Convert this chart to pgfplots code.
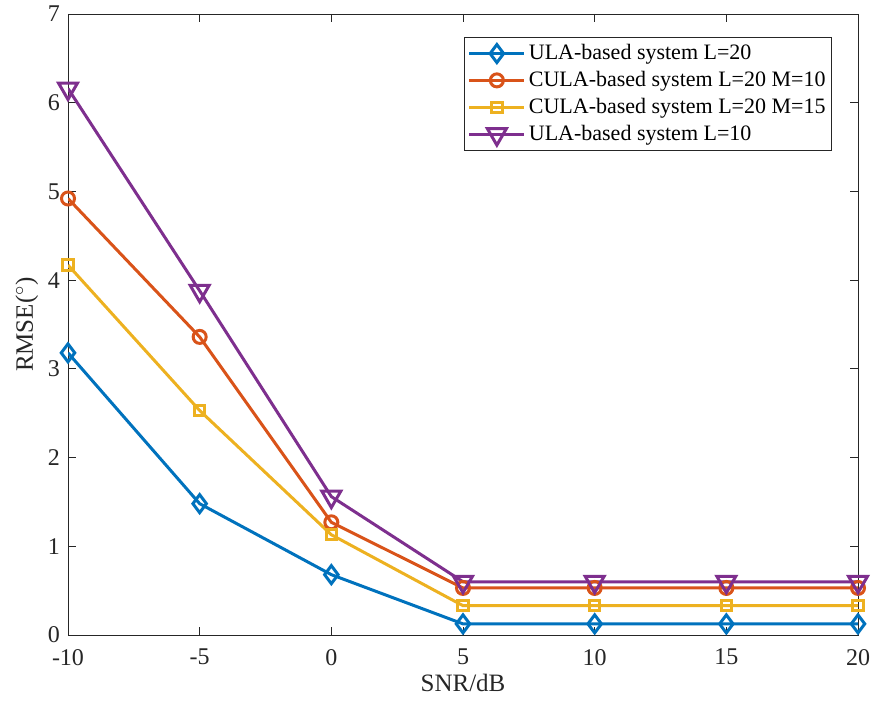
\documentclass[border=0pt]{standalone}
\usepackage{fontspec}
\setmainfont{Liberation Serif}
\usepackage{pgfplots}
\pgfplotsset{compat=1.18}
\definecolor{c1}{rgb}{0,0.447,0.741}
\definecolor{c2}{rgb}{0.85,0.325,0.098}
\definecolor{c3}{rgb}{0.929,0.694,0.125}
\definecolor{c4}{rgb}{0.494,0.184,0.556}
\definecolor{axc}{rgb}{0.15,0.15,0.15}
\begin{document}
\begin{tikzpicture}
\begin{axis}[
  scale only axis,
  width=395pt, height=310.5pt,
  xmin=-10, xmax=20, ymin=0, ymax=7,
  xtick={-10,-5,0,5,10,15,20},
  ytick={0,1,2,3,4,5,6,7},
  tick align=inside,
  major tick length=4pt,
  axis line style={axc, line width=0.4pt},
  tick style={axc, line width=0.4pt},
  every tick label/.append style={font=\fontsize{12}{14}\selectfont, text=axc},
  xticklabel style={yshift=-3.5pt},
  yticklabel style={xshift=-0.5pt},
  /pgf/number format/assume math mode=true,
  xlabel={SNR/dB}, ylabel={RMSE($^{\circ}$)},
  label style={font=\fontsize{12.5}{14}\selectfont, text=axc},
  xlabel style={yshift=2.5pt},
  ylabel style={yshift=-2pt},
  legend style={at={(rel axis cs:1,1)}, anchor=north east, xshift=-13pt, yshift=-11.5pt,
    font=\fontsize{11}{12.8}\selectfont, draw=axc, line width=0.4pt, inner sep=1.5pt,
    nodes={inner xsep=1.5pt},
    row sep=0.3pt, legend cell align=left},
  legend image code/.code={\draw[mark repeat=2,mark phase=2,#1] plot coordinates {(0pt,0pt) (13.75pt,0pt) (27.5pt,0pt)};},
  every axis plot/.append style={line width=1.5pt, mark options={solid}},
]
\addplot[c1, mark=diamond, mark size=4.5pt] coordinates {(-10,3.18) (-5,1.48) (0,0.68) (5,0.125) (10,0.125) (15,0.125) (20,0.125)};
\addlegendentry{ULA-based system L=20}
\addplot[c2, mark=o, mark size=3.25pt] coordinates {(-10,4.92) (-5,3.36) (0,1.27) (5,0.53) (10,0.53) (15,0.53) (20,0.53)};
\addlegendentry{CULA-based system L=20 M=10}
\addplot[c3, mark=square, mark size=2.6pt] coordinates {(-10,4.17) (-5,2.53) (0,1.13) (5,0.33) (10,0.33) (15,0.33) (20,0.33)};
\addlegendentry{CULA-based system L=20 M=15}
\addplot[c4, mark=triangle, mark options={rotate=180}, mark size=5.5pt] coordinates {(-10,6.16) (-5,3.88) (0,1.56) (5,0.60) (10,0.60) (15,0.60) (20,0.60)};
\addlegendentry{ULA-based system L=10}
\end{axis}
\pgfresetboundingbox
\path ([xshift=-34pt,yshift=-35.5pt]current axis.south west) rectangle ([xshift=7pt,yshift=7pt]current axis.north east);
\end{tikzpicture}
\end{document}
